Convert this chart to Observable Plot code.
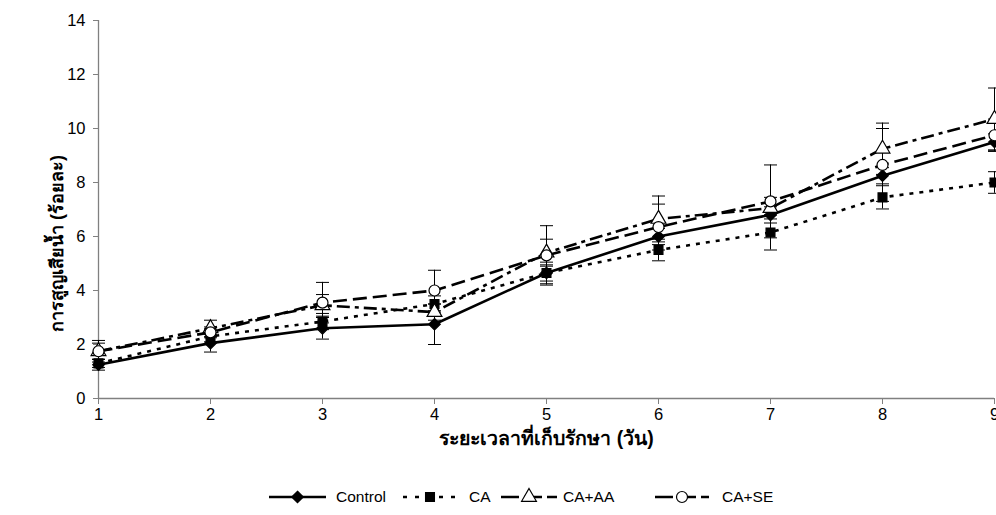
<!DOCTYPE html>
<html>
<head>
<meta charset="utf-8">
<script src="https://cdn.jsdelivr.net/npm/d3@7"></script>
<script src="https://cdn.jsdelivr.net/npm/@observablehq/plot@0.6"></script>
<style>
  html, body { margin: 0; padding: 0; background: #fff; }
  body { width: 996px; height: 515px; overflow: hidden; font-family: "Liberation Sans", Arial, sans-serif; }
  #legend { position: relative; width: 996px; height: 55px; }
  #legend .item { position: absolute; top: 0; height: 30px; display: flex; align-items: center; font-size: 15.5px; color: #000; }
  #chart g[aria-label$="tick label"] { font-size: 16.5px; }
</style>
</head>
<body>
<div id="chart"></div>
<div id="legend"></div>
<script>
const days = [1, 2, 3, 4, 5, 6, 7, 8, 9];
const seriesNames = ["Control", "CA", "CA+AA", "CA+SE"];
const controlValues = [1.25, 2.05, 2.6, 2.75, 4.65, 6.0, 6.8, 8.25, 9.5];
const caValues      = [1.3, 2.3, 2.85, 3.5, 4.65, 5.5, 6.15, 7.45, 8.0];
const caaaValues    = [1.75, 2.6, 3.45, 3.2, 5.4, 6.65, 7.05, 9.25, 10.35];
const caseValues    = [1.75, 2.45, 3.55, 4.0, 5.3, 6.35, 7.3, 8.65, 9.75];
const controlErr = [0.2, 0.33, 0.4, 0.75, 0.4, 0.3, 0.3, 0.3, 0.3];
const caErr      = [0.15, 0.2, 0.3, 0.3, 0.3, 0.4, 0.65, 0.43, 0.4];
const caaaErr    = [0.4, 0.3, 0.4, 0.3, 0.5, 0.85, 0.4, 0.95, 1.15];
const caseErr    = [0.3, 0.2, 0.75, 0.75, 1.1, 0.85, 1.35, 1.35, 0.6];
const yTicks = [0, 2, 4, 6, 8, 10, 12, 14];
const xLabel = "ระยะเวลาที่เก็บรักษา (วัน)";
const yLabel = "การสูญเสียน้ำ (ร้อยละ)";

const valueLists = [controlValues, caValues, caaaValues, caseValues];
const errLists = [controlErr, caErr, caaaErr, caseErr];
const styles = {
  "Control": {dash: null, symbol: "diamond2", fill: "black", r: 5.2},
  "CA": {dash: "4,6", symbol: "square", fill: "black", r: 5},
  "CA+AA": {dash: "13,5,4,5", symbol: "triangle", fill: "white", r: 5.5},
  "CA+SE": {dash: "14,6", symbol: "circle", fill: "white", r: 5.5}
};

const rows = [];
seriesNames.forEach((s, i) => {
  days.forEach((d, j) => {
    rows.push({series: s, day: d, value: valueLists[i][j], lo: valueLists[i][j] - errLists[i][j], hi: valueLists[i][j] + errLists[i][j]});
  });
});

const cap = {
  draw(context, size) {
    const w = Math.sqrt(size / Math.PI);
    context.moveTo(-w, 0);
    context.lineTo(w, 0);
  }
};

const marks = [
  Plot.ruleY([0], {stroke: "#808080", strokeWidth: 1.3}),
  Plot.ruleX([1], {stroke: "#808080", strokeWidth: 1.3}),
  Plot.axisY({ticks: yTicks, tickSize: 5, tickPadding: 8, stroke: "#808080", fill: "black", label: null}),
  Plot.axisX({ticks: days, tickSize: 6, tickPadding: 4, stroke: "#808080", fill: "black", label: null, tickFormat: d3.format("d")}),
  Plot.ruleX(rows, {x: "day", y1: "lo", y2: "hi", stroke: "black", strokeWidth: 1}),
  Plot.dot(rows, {x: "day", y: "lo", symbol: cap, r: 6.5, stroke: "black", strokeWidth: 1}),
  Plot.dot(rows, {x: "day", y: "hi", symbol: cap, r: 6.5, stroke: "black", strokeWidth: 1})
];
seriesNames.forEach(s => {
  const st = styles[s];
  marks.push(Plot.line(rows.filter(r => r.series === s), {x: "day", y: "value", stroke: "black", strokeWidth: 2.6, strokeDasharray: st.dash || undefined, strokeLinecap: "butt"}));
});
seriesNames.forEach(s => {
  const st = styles[s];
  marks.push(Plot.dot(rows.filter(r => r.series === s), {x: "day", y: "value", symbol: st.symbol, r: st.r, fill: st.fill, stroke: "black", strokeWidth: 1.2}));
});
marks.push(Plot.text([xLabel], {frameAnchor: "bottom", dy: 46, fontSize: 19.5, fontWeight: "bold", fill: "black"}));
marks.push(Plot.text([yLabel], {frameAnchor: "left", dx: -41, dy: 34, rotate: -90, textAnchor: "middle", fontSize: 18, fontWeight: "bold", fill: "black"}));

const chart = Plot.plot({
  width: 996,
  height: 460,
  marginLeft: 98,
  marginRight: 2,
  marginTop: 20,
  marginBottom: 62,
  style: {fontFamily: "'Liberation Sans', Arial, sans-serif", fontSize: "16px", background: "white", color: "black"},
  x: {domain: [1, 9]},
  y: {domain: [0, 14]},
  marks
});
document.getElementById("chart").appendChild(chart);

// Legend
const legendItems = [
  {name: "Control", lineX: 269, lineW: 57, textX: 336},
  {name: "CA", lineX: 403, lineW: 54, textX: 469},
  {name: "CA+AA", lineX: 501, lineW: 56, textX: 563},
  {name: "CA+SE", lineX: 655, lineW: 54, textX: 722}
];
const legend = d3.select("#legend");
legendItems.forEach(it => {
  const st = styles[it.name];
  const svg = legend.append("svg")
    .attr("width", it.lineW).attr("height", 30)
    .style("position", "absolute").style("left", it.lineX + "px").style("top", "22px");
  svg.append("line").attr("x1", 0).attr("x2", it.lineW).attr("y1", 15).attr("y2", 15)
    .attr("stroke", "black").attr("stroke-width", 2.6)
    .attr("stroke-dasharray", st.dash === "4,6" ? "4,8" : (st.dash ? "18,5" : null));
  const sym = {diamond2: d3.symbolDiamond2, square: d3.symbolSquare, triangle: d3.symbolTriangle, circle: d3.symbolCircle}[st.symbol];
  svg.append("path").attr("transform", `translate(${it.lineW / 2},15)`)
    .attr("d", d3.symbol(sym, Math.PI * st.r * st.r)())
    .attr("fill", st.fill).attr("stroke", "black").attr("stroke-width", 1.2);
  legend.append("div").attr("class", "item")
    .style("left", it.textX + "px").style("top", "22px")
    .text(it.name);
});
</script>
</body>
</html>
